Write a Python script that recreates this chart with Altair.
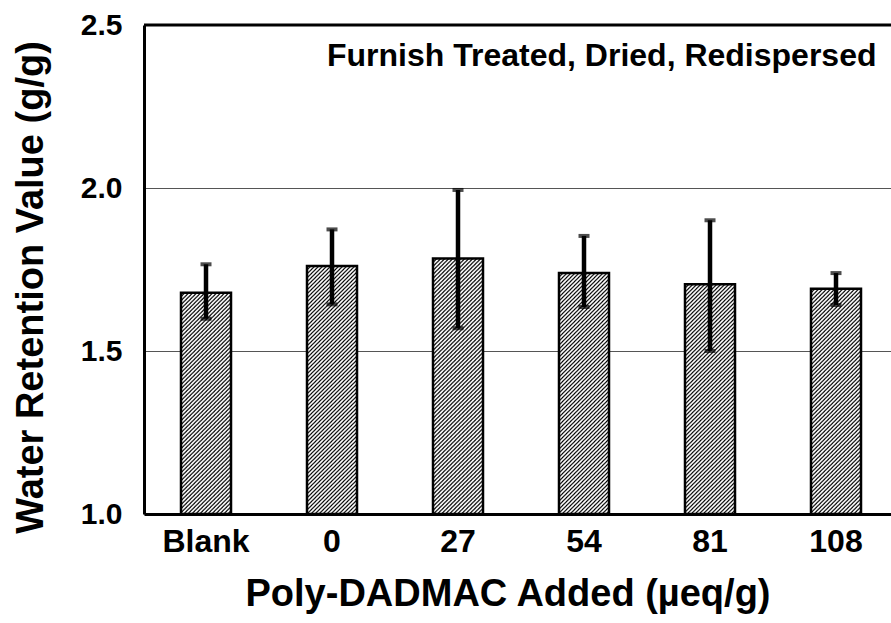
import altair as alt
import pandas as pd
from urllib.parse import quote

# ---- data ----
categories = ["Blank", "0", "27", "54", "81", "108"]
wrv_values = [1.679, 1.761, 1.784, 1.739, 1.705, 1.691]
err_high = [1.766, 1.873, 1.994, 1.853, 1.901, 1.739]
err_low = [1.599, 1.643, 1.570, 1.635, 1.500, 1.641]
y_ticks = [1.0, 1.5, 2.0, 2.5]
annotation = "Furnish Treated, Dried, Redispersed"
x_title = "Poly-DADMAC Added (\u00b5eq/g)"
y_title = "Water Retention Value (g/g)"

df = pd.DataFrame({"cat": categories, "wrv": wrv_values, "hi": err_high, "lo": err_low})

FONT = "Liberation Sans"
W, H = 747, 489

hatch_svg = (
    "<svg xmlns='http://www.w3.org/2000/svg' width='100%' height='100%'>"
    "<defs><pattern id='h' width='4' height='4' patternUnits='userSpaceOnUse'>"
    "<path d='M-1,1 L1,-1 M0,4 L4,0 M3,5 L5,3' stroke='black' stroke-width='1.2'/>"
    "</pattern></defs>"
    "<rect width='100%' height='100%' fill='white'/>"
    "<rect width='100%' height='100%' fill='url(#h)'/></svg>"
)
hatch_url = "data:image/svg+xml;charset=utf-8," + quote(hatch_svg)

xscale = alt.Scale(domain=categories, paddingInner=0.6, paddingOuter=0.2643, align=0.5526)
yscale = alt.Scale(domain=[1.0, 2.5], nice=False, zero=False)

x_axis = alt.Axis(
    title=x_title, labelAngle=0, ticks=False, domain=True, domainColor="black", domainWidth=3,
    labelFont=FONT, labelFontWeight="bold", labelFontSize=32, labelColor="black",
    labelPadding=37, labelBaseline="alphabetic",
    titleFont=FONT, titleFontWeight="bold", titleFontSize=38, titleColor="black",
    titleX=363.5, titleY=91, titleAlign="center", titleBaseline="alphabetic", grid=False,
)
y_axis = alt.Axis(
    title=y_title, values=y_ticks, format=".1f", ticks=False, domain=True, domainColor="black",
    domainWidth=3, grid=True, gridColor="#555555", gridWidth=1.2,
    labelFont=FONT, labelFontWeight="bold", labelFontSize=30, labelColor="black", labelPadding=22,
    titleFont=FONT, titleFontWeight="bold", titleFontSize=38, titleColor="black",
    titleX=-102, titleY=262, titleAngle=270, titleAlign="center", titleBaseline="alphabetic",
)

base = alt.Chart(df)

fallback = base.mark_bar(width=50, color="#8c8c8c").encode(
    x=alt.X("cat:N", sort=categories, scale=xscale, axis=x_axis),
    y=alt.Y("wrv:Q", scale=yscale, axis=y_axis),
    y2=alt.datum(1.0),
)
hatch = base.mark_image(width=50, aspect=False).encode(
    x=alt.X("cat:N", sort=categories),
    y=alt.Y("wrv:Q"),
    y2=alt.datum(1.0),
    url=alt.value(hatch_url),
)
outline = base.mark_bar(width=50, fillOpacity=0, stroke="black", strokeWidth=2.5).encode(
    x=alt.X("cat:N", sort=categories),
    y=alt.Y("wrv:Q"),
    y2=alt.datum(1.0),
)
err = base.mark_rule(color="black", strokeWidth=4.5).encode(
    x=alt.X("cat:N", sort=categories), y="lo:Q", y2="hi:Q"
)
cap_hi = base.mark_tick(color="black", thickness=4, size=11).encode(
    x=alt.X("cat:N", sort=categories), y="hi:Q"
)
cap_lo = base.mark_tick(color="black", thickness=4, size=11).encode(
    x=alt.X("cat:N", sort=categories), y="lo:Q"
)
top_border = alt.Chart(pd.DataFrame({"v": [2.5]})).mark_rule(color="black", strokeWidth=3).encode(
    y=alt.Y("v:Q"), x=alt.value(0), x2=alt.value(W)
)
label = alt.Chart(pd.DataFrame({"t": [annotation]})).mark_text(
    font=FONT, fontWeight="bold", fontSize=32, align="left", baseline="alphabetic", color="black"
).encode(text="t:N", x=alt.value(183), y=alt.value(41))

chart = alt.layer(fallback, hatch, outline, err, cap_hi, cap_lo, top_border, label).properties(
    width=W, height=H,
    autosize=alt.AutoSizeParams(type="none"),
    padding={"left": 144, "top": 25, "right": 0, "bottom": 109},
).configure_view(stroke="transparent").configure(background="white")

chart.save("out.html", embed_options={"renderer": "svg", "actions": False})
